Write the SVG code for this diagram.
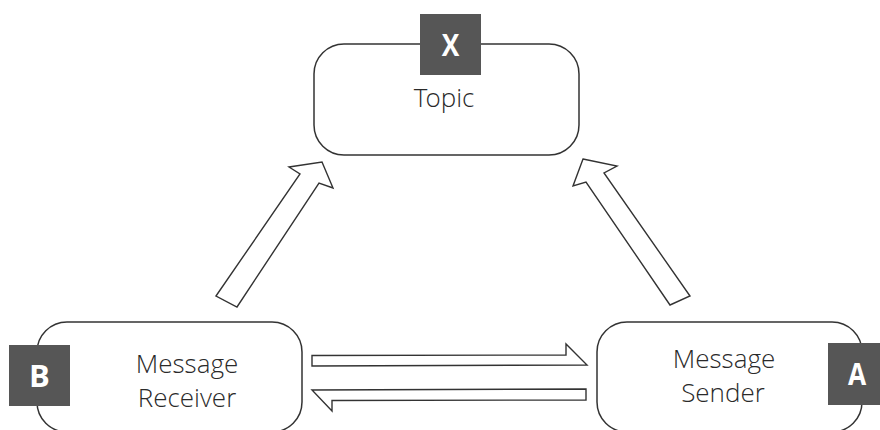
<svg xmlns="http://www.w3.org/2000/svg" width="880" height="430" viewBox="0 0 880 430">
<style>
.box{fill:#fff;stroke:#333;stroke-width:1.5}
.arrow{fill:#fff;stroke:#333;stroke-width:1.4;stroke-linejoin:miter}
.badge{fill:#565656}
.blabel{font-family:"Open Sans","Liberation Sans",sans-serif;font-weight:700;font-size:31px;fill:#fff;text-anchor:middle}
.label{font-family:"Open Sans Light","Open Sans","Liberation Sans",sans-serif;font-weight:300;font-size:26px;fill:#2a2a2a;text-anchor:middle}
</style>
<rect width="880" height="430" fill="#fff"/>
<g id="connectors">
<polygon class="arrow" points="216,296 300,174 289,167 322,162 333,188 319,183 237,307"/>
<polygon class="arrow" points="583,159 617,166 604,173 690,296 670,305 586,182 573,186"/>
<polygon class="arrow" points="312,355.5 566,355 566,344 587,365 312,366"/>
<polygon class="arrow" points="586,389 312,390 332,411 332,400.5 586,400"/>
</g>
<g id="topic">
<rect class="box" x="314" y="44" width="265" height="111" rx="30" ry="30"/>
<rect class="badge" x="420" y="14" width="61" height="61"/>
<text class="blabel" x="450.5" y="56" transform="translate(450.5 0) scale(0.85 1) translate(-450.5 0)">X</text>
<text class="label" x="444" y="107">Topic</text>
</g>
<g id="receiver">
<rect class="box" x="37" y="322" width="265" height="110" rx="30" ry="30"/>
<rect class="badge" x="9" y="345" width="61" height="61"/>
<text class="blabel" x="39.5" y="387">B</text>
<text class="label" x="187" y="373">Message</text>
<text class="label" x="187" y="407">Receiver</text>
</g>
<g id="sender">
<rect class="box" x="597" y="322" width="265" height="110" rx="30" ry="30"/>
<rect class="badge" x="828" y="343" width="61" height="62"/>
<text class="blabel" x="857" y="385" transform="translate(857 0) scale(0.85 1) translate(-857 0)">A</text>
<text class="label" x="724" y="368">Message</text>
<text class="label" x="723" y="402">Sender</text>
</g>
</svg>
